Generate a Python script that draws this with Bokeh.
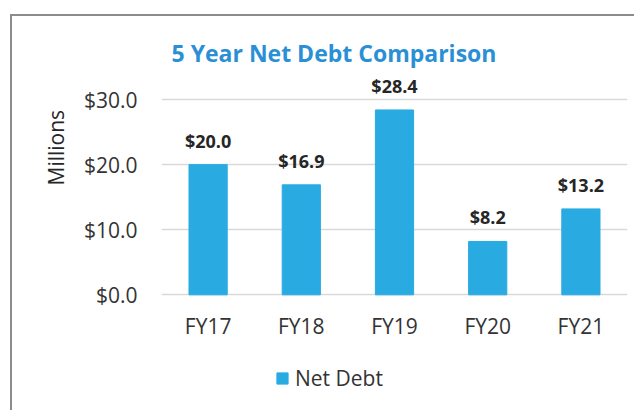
from bokeh.plotting import figure
from bokeh.models import (ColumnDataSource, FixedTicker, Legend, LegendItem,
                          Range1d, Title, InlineStyleSheet)
from bokeh.core.properties import value
from bokeh.embed import file_html
from bokeh.resources import INLINE

# ---- data ----
years = ["FY17", "FY18", "FY19", "FY20", "FY21"]
net_debt = [20.0, 16.9, 28.4, 8.2, 13.2]
debt_labels = ["$20.0", "$16.9", "$28.4", "$8.2", "$13.2"]
y_ticks = [0, 10, 20, 30]
y_tick_labels = ["$0.0", "$10.0", "$20.0", "$30.0"]
series_name = "Net Debt"
title_text = "5 Year Net Debt Comparison"
y_title = "Millions"

FONT = "Open Sans"
BAR = "#29abe2"
TXT = "#333333"

# pixel geometry of the value scale (frame runs from y=73 to the bottom edge)
PX_PER_UNIT = 6.51
FRAME_TOP, FRAME_BOTTOM = 73, 410
Y_END = 34
Y_START = Y_END - (FRAME_BOTTOM - FRAME_TOP) / PX_PER_UNIT

src = ColumnDataSource(dict(years=years, net_debt=net_debt, labels=debt_labels))

p = figure(x_range=years, y_range=Range1d(Y_START, Y_END), width=634, height=410,
           x_axis_location=None,
           min_border_left=161, min_border_right=7, min_border_top=FRAME_TOP,
           min_border_bottom=0, output_backend="svg", toolbar_location=None)
p.outline_line_color = None
p.background_fill_color = "white"
p.border_fill_color = "white"

p.xgrid.grid_line_color = None
p.ygrid.grid_line_color = "#d9d9d9"
p.ygrid.grid_line_width = 1.5

p.yaxis.ticker = FixedTicker(ticks=y_ticks)
p.yaxis.major_label_overrides = {t: l for t, l in zip(y_ticks, y_tick_labels)}
yax = p.yaxis[0]
yax.axis_line_color = None
yax.major_tick_line_color = None
yax.minor_tick_line_color = None
yax.major_tick_in = 0
yax.major_tick_out = 0
yax.major_label_text_font = FONT
yax.major_label_text_font_size = "21px"
yax.major_label_text_color = TXT
yax.major_label_standoff = 24

bars = p.vbar(x="years", top="net_debt", bottom=0, width=0.41, source=src,
              fill_color=BAR, line_color=BAR)

# value labels above the bars
p.text(x="years", y="net_debt", text="labels", source=src,
       text_align="center", text_baseline="middle", y_offset=-24,
       text_font=value(FONT), text_font_style="bold", text_font_size="18px",
       text_color="#262626")

# category labels under the value-zero baseline
p.text(x="years", y=0, text="years", source=src,
       text_align="center", text_baseline="middle", y_offset=31,
       text_font=value(FONT), text_font_size="21px", text_color=TXT)

# title above the frame
p.title = Title(text=title_text, align="left", offset=10, standoff=10,
                text_font=FONT, text_font_style="bold", text_font_size="23px",
                text_color="#2b8fd6")

# vertical "Millions" label on the left
p.add_layout(Title(text=y_title, align="left", offset=225, standoff=22,
                   text_font=FONT, text_font_style="normal",
                   text_font_size="21px", text_color="#262626"), "left")

legend = Legend(items=[LegendItem(label=series_name, renderers=[bars])],
                location=(114, 18), orientation="horizontal",
                glyph_width=14, glyph_height=14, label_standoff=6,
                label_text_font=FONT, label_text_font_size="21px",
                label_text_color=TXT, padding=0, margin=0,
                border_line_color=None, background_fill_alpha=0)
p.add_layout(legend)

p.stylesheets = [InlineStyleSheet(css="""
:host::after {
  content: "";
  position: absolute;
  left: 10px; top: 14px; right: 0; bottom: 0;
  border-left: 2px solid #8c8c8c;
  border-top: 2px solid #8c8c8c;
  pointer-events: none;
}
""")]

open("out.html", "w").write(file_html(p, INLINE))
